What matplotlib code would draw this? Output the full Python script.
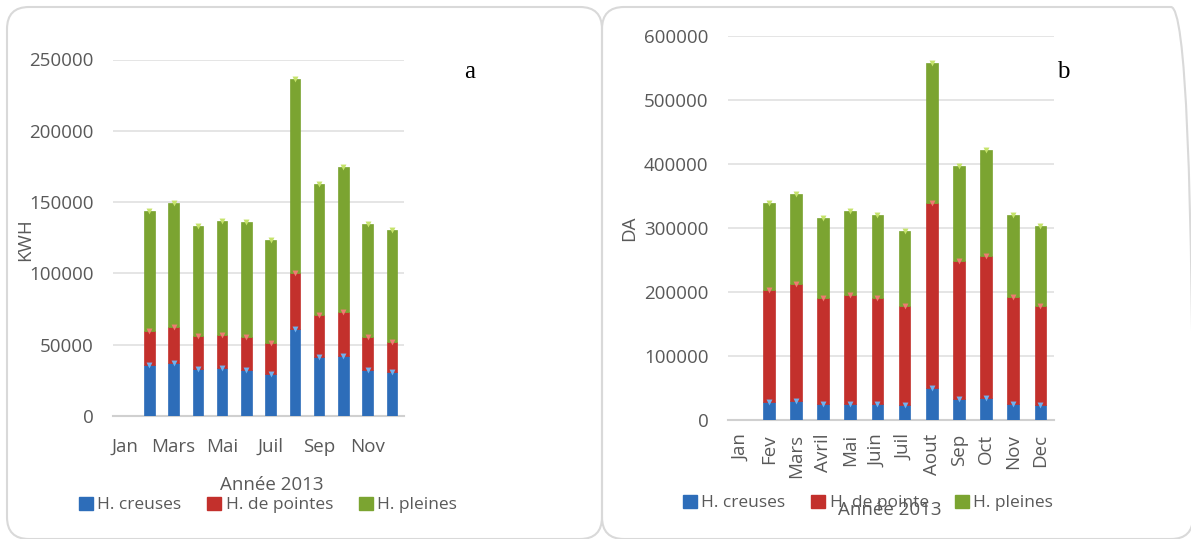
import matplotlib.pyplot as plt
import numpy as np
from matplotlib.patches import FancyBboxPatch, Patch

# Data (Fev..Dec, Jan has no bar)
mois = ['Jan', 'Fev', 'Mars', 'Avril', 'Mai', 'Juin', 'Juil', 'Aout',
        'Sep', 'Oct', 'Nov', 'Dec']

# a : KWH
kwh_creuses = [35500, 36900, 33200, 33700, 32500, 29500, 60800, 41200, 41900, 32500, 30900]
kwh_pointes = [24100, 25300, 22900, 23300, 22900, 21700, 39700, 29600, 31000, 22900, 21200]
kwh_pleines = [84200, 87300, 77400, 80000, 80400, 72400, 135600, 92100, 101700, 79400, 78100]

# b : DA
da_creuses = [28100, 29700, 25500, 25500, 24500, 22900, 49500, 32800, 33900, 25000, 23900]
da_pointe = [175000, 182300, 165600, 170300, 166600, 155200, 289100, 215600, 222400, 167700, 154200]
da_pleines = [135500, 141100, 124500, 130300, 129700, 117700, 218700, 148000, 165100, 128100, 124500]

c_blue, c_red, c_green = '#2D6DB9', '#C3302C', '#7BA431'
c_blue_l, c_red_l, c_green_l = '#6FB2F0', '#F07A72', '#C5E36A'
grey = '#595959'
fs = 13.5

plt.rcParams['font.family'] = ['Open Sans', 'DejaVu Sans']

fig = plt.figure(figsize=(11.91, 5.39), dpi=100)
W, H = 1191, 539

# rounded chart frames (inches, so the corners stay round)
for x0, x1 in [(7, 602), (602, 1193)]:
    box = FancyBboxPatch((x0 / 100, (H - 539) / 100), (x1 - x0) / 100, 5.32,
                         boxstyle='round,pad=0,rounding_size=0.22',
                         transform=fig.dpi_scale_trans, facecolor='none',
                         edgecolor='#D9D9D9', linewidth=1.5)
    fig.patches.append(box)


def stacked(ax, series, colors, lights, width):
    x = np.arange(1, len(mois))
    bottom = np.zeros(len(x))
    for vals, c, cl in zip(series, colors, lights):
        vals = np.array(vals, dtype=float)
        ax.bar(x, vals, width, bottom=bottom, color=c, edgecolor=c,
               linewidth=0.5, zorder=3)
        ax.scatter(x, bottom + vals, marker='v', s=18, color=cl,
                   linewidths=0, zorder=4)
        bottom += vals
    ax.set_xlim(-0.5, len(mois) - 0.5)
    for s in ['top', 'right', 'left']:
        ax.spines[s].set_visible(False)
    ax.spines['bottom'].set_color('#D0D0D0')
    ax.spines['bottom'].set_linewidth(1.5)
    ax.grid(axis='y', color='#E0E0E0', linewidth=1.2, zorder=0)
    ax.tick_params(length=0, labelsize=fs, labelcolor=grey)
    ax.tick_params(axis='y', pad=14)


# a
ax1 = fig.add_axes([113 / W, 1 - 416 / H, 291 / W, 356.5 / H])
stacked(ax1, [kwh_creuses, kwh_pointes, kwh_pleines],
        [c_blue, c_red, c_green], [c_blue_l, c_red_l, c_green_l], 0.44)
ax1.set_ylim(0, 250000)
ax1.set_yticks(np.arange(0, 250001, 50000))
ax1.set_xticks(np.arange(0, 12, 2))
ax1.set_xticklabels(mois[::2])
ax1.tick_params(axis='x', pad=16)
fig.text(25 / W, 1 - 240 / H, 'KWH', fontsize=fs, color=grey, rotation=90,
         ha='center', va='center')
fig.text(272 / W, 1 - 485 / H, 'Année 2013', fontsize=fs, color=grey,
         ha='center', va='center')
fig.text(470 / W, 1 - 72 / H, 'a', family='Liberation Serif', fontsize=18,
         ha='center', va='center')

# b
ax2 = fig.add_axes([728 / W, 1 - 420 / H, 326 / W, 384 / H])
stacked(ax2, [da_creuses, da_pointe, da_pleines],
        [c_blue, c_red, c_green], [c_blue_l, c_red_l, c_green_l], 0.43)
ax2.set_ylim(0, 600000)
ax2.set_yticks(np.arange(0, 600001, 100000))
ax2.set_xticks(np.arange(12))
ax2.set_xticklabels(mois, rotation=90)
ax2.tick_params(axis='x', pad=10)
fig.text(629 / W, 1 - 228 / H, 'DA', fontsize=fs, color=grey, rotation=90,
         ha='center', va='center')
fig.text(890 / W, 1 - 510 / H, 'Année 2013', fontsize=fs, color=grey,
         ha='center', va='center')
fig.text(1063 / W, 1 - 72 / H, 'b', family='Liberation Serif', fontsize=18,
         ha='center', va='center')

# partial caption letter at the top edge
fig.text(967 / W, 1 + 6 / H, 'g', family='Liberation Serif', fontsize=18,
         ha='center', va='baseline')

# legends
def legend(xc, yc, labels, spacing):
    handles = [Patch(facecolor=c, edgecolor=c) for c in (c_blue, c_red, c_green)]
    fig.legend(handles, labels, loc='center', bbox_to_anchor=(xc / W, 1 - yc / H),
               ncol=3, frameon=False, fontsize=12.5, handlelength=0.8,
               handleheight=0.8, handletextpad=0.25, columnspacing=spacing,
               labelcolor=grey, borderpad=0)

legend(268, 505, ['H. creuses', 'H. de pointes', 'H. pleines'], 1.5)
legend(868, 503, ['H. creuses', 'H. de pointe', 'H. pleines'], 1.5)

fig.savefig('out.png', dpi=100)
